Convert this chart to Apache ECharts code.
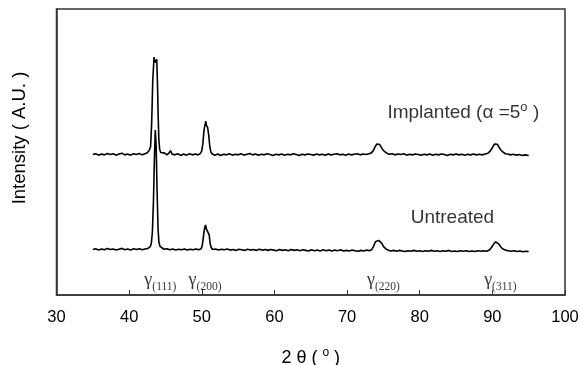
<!DOCTYPE html>
<html>
<head>
<meta charset="utf-8">
<script src="https://cdn.jsdelivr.net/npm/echarts@6/dist/echarts.min.js"></script>
<style>
  html, body { margin: 0; padding: 0; background: #fff; }
  #chart { width: 580px; height: 365px; }
</style>
</head>
<body>
<div id="chart"></div>
<script>
// [2θ, intensity (arbitrary, 0..100 scale)]
const implanted = [
  [35.0,49.1],[35.4,49.4],[35.8,48.9],[36.2,49.3],[36.6,49.0],[37.0,49.5],[37.4,49.1],[37.8,49.4],[38.2,48.9],[38.6,49.3],
  [39.0,49.6],[39.4,49.0],[39.8,49.3],[40.2,48.9],[40.6,49.4],[41.0,49.1],[41.4,49.5],[41.8,49.0],[42.2,49.4],[42.5,49.7],
  [42.75,50.5],[42.95,51.8],[43.1,60.0],[43.25,75.0],[43.43,83.2],[43.55,81.3],[43.65,81.8],[43.8,82.4],[43.9,74.0],[44.0,62.0],
  [44.1,54.0],[44.2,51.0],[44.35,49.8],[44.6,49.2],[44.9,49.6],[45.2,49.0],[45.5,49.7],[45.7,50.5],[45.9,49.3],[46.3,49.0],
  [46.7,49.4],[47.1,48.8],[47.5,49.3],[47.9,48.9],[48.3,49.4],[48.7,49.0],[49.1,49.3],[49.5,49.0],[49.8,49.5],[50.0,50.4],
  [50.15,53.0],[50.3,57.5],[50.45,59.6],[50.55,60.8],[50.65,59.3],[50.8,58.6],[50.95,56.0],[51.1,52.0],[51.25,50.0],[51.45,49.3],
  [51.8,48.9],[52.2,49.3],[52.6,48.8],[53.0,49.2],[53.4,49.0],[53.8,49.4],[54.2,48.9],[54.6,49.2],[55.0,49.0],[55.4,49.4],
  [55.8,48.9],[56.2,49.2],[56.6,49.5],[57.0,49.0],[57.4,49.3],[57.8,48.9],[58.2,49.2],[58.6,49.0],[59.0,49.4],[59.4,49.1],
  [59.8,48.8],[60.2,49.2],[60.6,49.0],[61.0,49.3],[61.4,48.9],[61.8,49.2],[62.2,49.0],[62.6,49.4],[63.0,49.1],[63.4,48.8],
  [63.8,49.2],[64.2,49.0],[64.6,49.3],[65.0,49.1],[65.4,48.9],[65.8,49.3],[66.2,49.0],[66.6,49.2],[67.0,48.9],[67.4,49.3],
  [67.8,49.0],[68.2,49.2],[68.6,49.4],[69.0,49.0],[69.4,49.2],[69.8,48.9],[70.2,49.3],[70.6,49.0],[71.0,49.2],[71.4,49.4],
  [71.8,49.0],[72.2,49.3],[72.6,49.1],[73.0,49.4],[73.3,49.6],[73.6,50.4],[73.85,51.8],[74.1,52.8],[74.3,53.2],[74.5,52.6],
  [74.7,51.7],[74.9,50.9],[75.15,50.2],[75.45,49.6],[75.8,49.2],[76.2,49.4],[76.6,49.0],[77.0,49.3],[77.4,49.1],[77.8,49.4],
  [78.2,48.9],[78.6,49.2],[79.0,49.0],[79.4,49.3],[79.8,49.1],[80.2,48.9],[80.6,49.2],[81.0,49.0],[81.4,49.3],[81.8,48.9],
  [82.2,49.2],[82.6,49.0],[83.0,49.3],[83.4,49.1],[83.8,48.8],[84.2,49.2],[84.6,49.0],[85.0,49.3],[85.4,49.0],[85.8,49.2],
  [86.2,48.9],[86.6,49.2],[87.0,49.0],[87.4,49.3],[87.8,49.0],[88.2,49.2],[88.6,49.0],[89.0,49.3],[89.4,49.6],[89.7,50.3],
  [90.0,51.5],[90.3,52.8],[90.5,53.4],[90.7,52.7],[90.95,51.5],[91.2,50.6],[91.5,49.9],[91.8,49.4],[92.1,49.3],[92.5,49.0],
  [92.9,49.2],[93.3,48.9],[93.7,49.1],[94.1,48.8],[94.5,49.0],[95.0,48.8]
];

const untreated = [
  [35.0,15.9],[35.4,16.2],[35.8,15.7],[36.2,16.1],[36.6,15.8],[37.0,16.3],[37.4,15.9],[37.8,16.1],[38.2,15.7],[38.6,16.0],
  [39.0,16.3],[39.4,15.8],[39.8,16.1],[40.2,15.7],[40.6,16.2],[41.0,15.9],[41.4,16.2],[41.8,15.8],[42.2,16.1],[42.6,16.3],
  [42.9,16.9],[43.05,18.0],[43.2,22.0],[43.35,33.0],[43.48,48.0],[43.6,57.7],[43.72,52.0],[43.85,36.0],[43.98,23.0],[44.1,18.5],
  [44.25,17.0],[44.45,16.4],[44.8,16.0],[45.2,16.2],[45.6,15.8],[46.0,16.1],[46.4,15.7],[46.8,16.0],[47.2,15.8],[47.6,16.1],
  [48.0,15.7],[48.4,16.0],[48.8,15.8],[49.2,16.1],[49.6,15.8],[49.9,16.2],[50.05,17.0],[50.18,19.5],[50.3,22.0],[50.42,23.8],
  [50.52,24.5],[50.64,23.0],[50.78,23.2],[50.9,23.4],[51.02,21.0],[51.15,18.0],[51.3,16.6],[51.5,15.9],[51.9,16.1],[52.3,15.7],
  [52.7,16.0],[53.1,15.8],[53.5,16.1],[53.9,15.7],[54.3,15.9],[54.7,15.6],[55.1,16.0],[55.5,15.8],[55.9,15.6],[56.3,16.0],
  [56.7,15.7],[57.1,15.9],[57.5,15.6],[57.9,16.0],[58.3,15.7],[58.7,15.9],[59.1,15.6],[59.5,15.9],[59.9,15.7],[60.3,15.5],
  [60.7,15.9],[61.1,15.6],[61.5,15.8],[61.9,15.5],[62.3,15.9],[62.7,15.6],[63.1,15.8],[63.5,15.5],[63.9,15.8],[64.3,15.6],
  [64.7,15.4],[65.1,15.8],[65.5,15.5],[65.9,15.7],[66.3,15.4],[66.7,15.8],[67.1,15.5],[67.5,15.7],[67.9,15.4],[68.3,15.7],
  [68.7,15.5],[69.1,15.8],[69.5,15.4],[69.9,15.6],[70.3,15.4],[70.7,15.7],[71.1,15.5],[71.5,15.3],[71.9,15.6],[72.3,15.4],
  [72.7,15.7],[73.1,15.5],[73.4,15.9],[73.65,17.0],[73.9,18.6],[74.1,19.0],[74.35,19.1],[74.6,18.9],[74.8,18.0],[75.0,17.0],
  [75.3,16.2],[75.6,15.7],[76.0,15.4],[76.4,15.6],[76.8,15.3],[77.2,15.6],[77.6,15.4],[78.0,15.2],[78.4,15.5],[78.8,15.3],
  [79.2,15.6],[79.6,15.3],[80.0,15.5],[80.4,15.2],[80.8,15.5],[81.2,15.3],[81.6,15.6],[82.0,15.3],[82.4,15.5],[82.8,15.2],
  [83.2,15.5],[83.6,15.3],[84.0,15.6],[84.4,15.2],[84.8,15.4],[85.2,15.2],[85.6,15.5],[86.0,15.3],[86.4,15.5],[86.8,15.2],
  [87.2,15.4],[87.6,15.2],[88.0,15.5],[88.4,15.3],[88.8,15.5],[89.2,15.3],[89.6,15.7],[89.9,16.7],[90.2,17.9],[90.45,18.6],
  [90.65,18.7],[90.9,17.8],[91.15,16.9],[91.4,16.2],[91.8,15.7],[92.2,15.5],[92.6,15.3],[93.0,15.5],[93.4,15.2],[93.8,15.4],
  [94.2,15.1],[94.6,15.3],[95.0,15.2]
];

// reflection labels under the peaks
const peakNames = ['(111)', '(200)', '(220)', '(311)'];
const peakLabelX = [44.3, 50.45, 75.0, 91.1];
const peakLabelY = 5.2;

// series names written on the plot
const curveNames = ['Implanted (α =5', 'Untreated'];
const curveLabelPos = [[86.0, 63.6], [84.5, 26.9]];

const chart = echarts.init(document.getElementById('chart'), null, { renderer: 'canvas' });

const sans = 'Liberation Sans, Arial, sans-serif';
const serif = 'Liberation Serif, Times New Roman, serif';

const option = {
  backgroundColor: '#fff',
  animation: false,
  grid: {
    left: 56.5, right: 15, top: 9, bottom: 70,
    containLabel: false, outerBoundsMode: 'none',
    show: true, borderColor: '#333', borderWidth: 1.5
  },
  xAxis: {
    type: 'value',
    min: 30, max: 100, interval: 10,
    name: '{n|2 θ ( }{sup|o}{n| )}',
    nameLocation: 'middle',
    nameGap: 52,
    nameTextStyle: {
      rich: {
        n: { fontFamily: sans, fontSize: 18, color: '#000', lineHeight: 22 },
        sup: { fontFamily: sans, fontSize: 12, color: '#000', verticalAlign: 'top', lineHeight: 12 }
      }
    },
    axisLine: { show: true, lineStyle: { color: '#333', width: 1.5 } },
    axisTick: { show: true, inside: true, length: 5, lineStyle: { color: '#333' } },
    axisLabel: { fontFamily: sans, fontSize: 16.5, color: '#000', margin: 14 },
    splitLine: { show: false }
  },
  yAxis: {
    type: 'value',
    min: 0, max: 100,
    axisLine: { show: true, lineStyle: { color: '#333', width: 1.5 } },
    axisTick: { show: false },
    axisLabel: { show: false },
    splitLine: { show: false }
  },
  graphic: [{
    type: 'text',
    x: 20, y: 138,
    rotation: Math.PI / 2,
    style: {
      text: 'Intensity ( A.U. )',
      font: '18.5px ' + sans,
      fill: '#000',
      align: 'center',
      verticalAlign: 'middle'
    }
  }],
  series: [
    {
      type: 'line', data: implanted, showSymbol: false, symbol: 'none',
      lineStyle: { color: '#000', width: 1.6 }, silent: true
    },
    {
      type: 'line', data: untreated, showSymbol: false, symbol: 'none',
      lineStyle: { color: '#000', width: 1.6 }, silent: true
    },
    {
      type: 'scatter', symbolSize: 0, silent: true,
      data: peakLabelX.map((x, i) => ({ value: [x, peakLabelY], name: peakNames[i] })),
      label: {
        show: true, position: 'inside',
        formatter: p => '{g|γ}{s|' + p.name + '}',
        rich: {
          g: { fontFamily: serif, fontSize: 18, color: '#000', lineHeight: 20 },
          s: { fontFamily: serif, fontSize: 11.5, color: '#000', verticalAlign: 'bottom', lineHeight: 11, padding: [0, 0, -3, 0] }
        }
      }
    },
    {
      type: 'scatter', symbolSize: 0, silent: true,
      data: curveLabelPos.map((p, i) => ({ value: p, name: curveNames[i] })),
      label: {
        show: true, position: 'inside',
        formatter: p => p.dataIndex === 0 ? '{t|' + p.name + '}{sup|o}{t| )}' : '{t|' + p.name + '}',
        rich: {
          t: { fontFamily: sans, fontSize: 19, color: '#000', lineHeight: 24 },
          sup: { fontFamily: sans, fontSize: 13, color: '#000', verticalAlign: 'top', lineHeight: 13 }
        }
      }
    }
  ]
};

chart.setOption(option);
window.addEventListener('resize', chart.resize);
</script>
</body>
</html>
